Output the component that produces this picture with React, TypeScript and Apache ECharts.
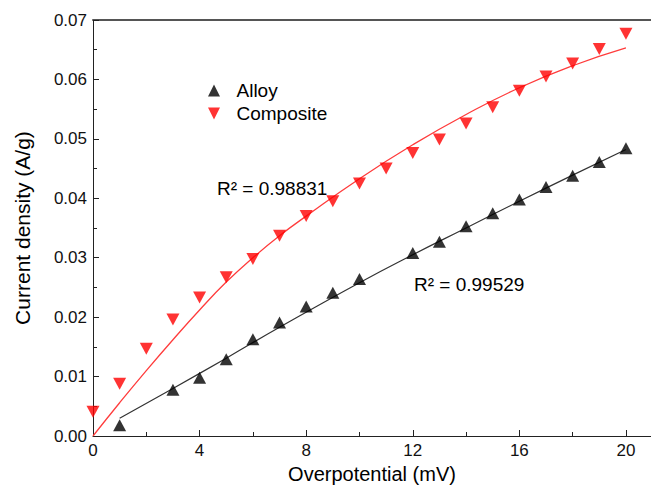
import React, { useEffect, useRef } from 'react';
import * as echarts from 'echarts';

const alloyX = [1, 3, 4, 5, 6, 7, 8, 9, 10, 12, 13, 14, 15, 16, 17, 18, 19, 20];
const alloyY = [0.0018, 0.0078, 0.0098, 0.0129, 0.0163, 0.0191, 0.0218, 0.0241, 0.0264, 0.0308, 0.0327, 0.0353, 0.0375, 0.0398, 0.0419, 0.0438, 0.0461, 0.0484];

const compX = [0, 1, 2, 3, 4, 5, 6, 7, 8, 9, 10, 11, 12, 13, 14, 15, 16, 17, 18, 19, 20];
const compY = [0.0041, 0.0088, 0.0147, 0.0196, 0.0233, 0.0267, 0.0298, 0.0337, 0.037, 0.0395, 0.0425, 0.045, 0.0476, 0.0499, 0.0526, 0.0553, 0.0581, 0.0605, 0.0627, 0.0651, 0.0677];

const alloyFitX = [1, 3, 5, 7, 10, 12, 14, 16, 18, 20];
const alloyFitY = [0.003, 0.008, 0.0131, 0.0183, 0.0258, 0.0305, 0.035, 0.0395, 0.0439, 0.0482];

const compFitX = [0, 1, 2, 3, 4, 5, 6, 7, 8, 10, 12, 14, 16, 18, 20];
const compFitY = [0, 0.0056, 0.011, 0.0162, 0.0212, 0.0259, 0.03, 0.0337, 0.037, 0.0433, 0.049, 0.0541, 0.0586, 0.0623, 0.0653];

const seriesNames = ['Alloy', 'Composite'];
const r2Labels = ['R\u00B2 = 0.98831', 'R\u00B2 = 0.99529'];
const xTickValues = [0, 4, 8, 12, 16, 20];

const FONT = '"Liberation Sans", Arial, sans-serif';

const zip = (xs: number[], ys: number[]) => xs.map((x, i) => [x, ys[i]]);

export default function App() {
  const ref = useRef<HTMLDivElement>(null);
  useEffect(() => {
    if (!ref.current) return;
    const chart = echarts.init(ref.current, undefined, { renderer: 'svg' });
    const option: any = {
      animation: false,
      backgroundColor: '#ffffff',
      textStyle: { fontFamily: FONT },
      grid: { left: 93, right: 0, top: 20, bottom: 55, containLabel: false },
      legend: {
        orient: 'vertical',
        left: 203,
        top: 76,
        itemWidth: 13,
        itemHeight: 12,
        itemGap: 4,
        textStyle: { fontSize: 19, color: '#000', fontFamily: FONT, padding: [0, 0, 0, 11] },
        data: [
          { name: seriesNames[0], icon: 'path://M5,0 L10,10 L0,10 Z' },
          { name: seriesNames[1], icon: 'path://M0,0 L10,0 L5,10 Z' },
        ],
      },
      xAxis: [
        {
          type: 'value',
          min: 0,
          max: 20.94,
          interval: 4,
          position: 'bottom',
          name: 'Overpotential (mV)',
          nameLocation: 'middle',
          nameGap: 26,
          nameTextStyle: { fontSize: 20, color: '#000', fontFamily: FONT },
          axisLine: { show: true, onZero: false, lineStyle: { color: '#222', width: 1 } },
          axisTick: { show: true, inside: true, length: 6, customValues: xTickValues, lineStyle: { color: '#222' } },
          minorTick: { show: true, splitNumber: 2, length: 4, lineStyle: { color: '#222' } },
          axisLabel: {
            fontSize: 17,
            color: '#111',
            margin: 6,
            fontFamily: FONT,
            customValues: xTickValues,
            formatter: (v: number) => String(v),
          },
          splitLine: { show: false },
        },
        {
          type: 'value',
          min: 0,
          max: 20.94,
          position: 'top',
          axisLine: { show: true, onZero: false, lineStyle: { color: '#555', width: 2 } },
          axisTick: { show: false },
          axisLabel: { show: false },
          splitLine: { show: false },
        },
      ],
      yAxis: {
        type: 'value',
        min: 0,
        max: 0.07,
        interval: 0.01,
        name: 'Current density (A/g)',
        nameLocation: 'middle',
        nameGap: 60,
        nameTextStyle: { fontSize: 21, color: '#000', fontFamily: FONT },
        axisLine: { show: true, onZero: false, lineStyle: { color: '#222', width: 1 } },
        axisTick: { show: true, inside: true, length: 6, lineStyle: { color: '#222' } },
        minorTick: { show: true, splitNumber: 2, length: 4, lineStyle: { color: '#222' } },
        axisLabel: {
          fontSize: 17,
          color: '#111',
          margin: 6,
          fontFamily: FONT,
          formatter: (v: number) => v.toFixed(2),
        },
        splitLine: { show: false },
      },
      series: [
        {
          name: 'Alloy fit',
          type: 'line',
          data: zip(alloyFitX, alloyFitY),
          showSymbol: false,
          smooth: true,
          lineStyle: { color: '#333', width: 1.2 },
          silent: true,
          z: 2,
        },
        {
          name: 'Composite fit',
          type: 'line',
          data: zip(compFitX, compFitY),
          showSymbol: false,
          smooth: true,
          lineStyle: { color: '#ff3c3c', width: 1.3 },
          silent: true,
          z: 2,
        },
        {
          name: seriesNames[0],
          type: 'scatter',
          data: zip(alloyX, alloyY),
          symbol: 'triangle',
          symbolSize: [13, 12],
          itemStyle: { color: '#000' },
          z: 3,
        },
        {
          name: seriesNames[1],
          type: 'scatter',
          data: zip(compX, compY),
          symbol: 'triangle',
          symbolRotate: 180,
          symbolSize: [13, 12],
          itemStyle: { color: '#ff0000' },
          z: 3,
        },
      ],
      graphic: [
        {
          type: 'text',
          x: 217,
          y: 188,
          style: { text: r2Labels[0], fontSize: 19, fill: '#000', fontFamily: FONT, verticalAlign: 'middle' },
        },
        {
          type: 'text',
          x: 414,
          y: 284,
          style: { text: r2Labels[1], fontSize: 19, fill: '#000', fontFamily: FONT, verticalAlign: 'middle' },
        },
      ],
    };
    chart.setOption(option);
    return () => chart.dispose();
  }, []);
  return <div ref={ref} style={{ width: 651, height: 491, position: 'fixed', left: 0, top: 0 }} />;
}
